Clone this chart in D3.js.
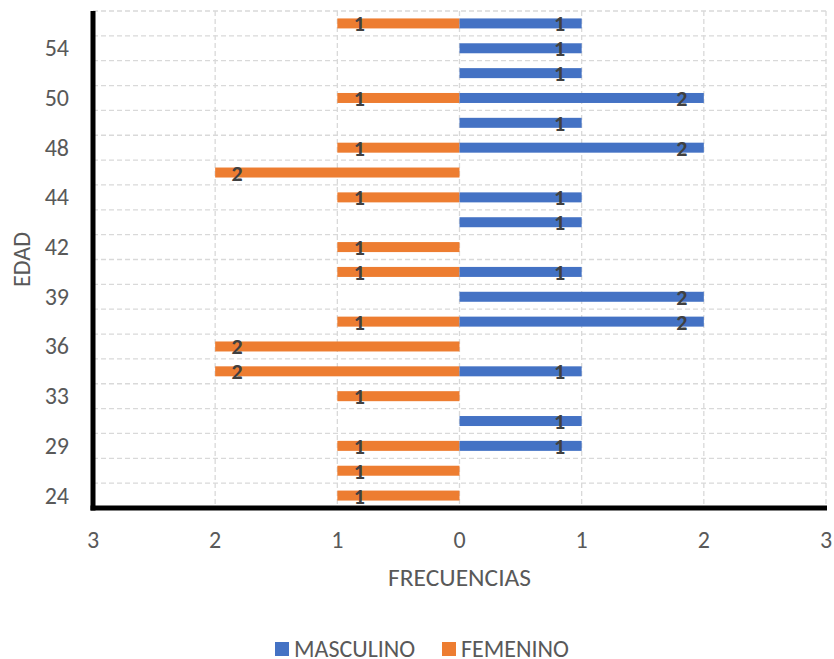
<!DOCTYPE html>
<meta charset="utf-8">
<script src="https://d3js.org/d3.v7.min.js"></script>
<style>
  body { margin: 0; background: #fff; }
  text { font-family: Calibri, Carlito, "Open Sans", sans-serif; }
</style>
<div id="my_dataviz"></div>
<script>

// ages, bottom to top (only every other one is labelled in the chart)
var edades = [24, 26, 29, 30, 33, 35, 36, 37, 39, 40, 42, 43, 44, 46, 48, 49, 50, 52, 54, 56];
var masculino = [0, 0, 1, 1, 0, 1, 0, 2, 2, 1, 0, 1, 1, 0, 2, 1, 2, 1, 1, 1];
var femenino  = [1, 1, 1, 0, 1, 2, 2, 1, 0, 1, 1, 0, 1, 2, 1, 0, 1, 0, 0, 1];
var xTicks = [-3, -2, -1, 0, 1, 2, 3];

var W = 834, H = 659;
var plotLeft = 93, plotRight = 826, plotTop = 11, plotBottom = 508;

var svg = d3.select("#my_dataviz")
  .append("svg")
    .attr("width", W)
    .attr("height", H);

var x = d3.scaleLinear()
  .domain([-3, 3])
  .range([plotLeft, plotRight]);

var y = d3.scaleBand()
  .domain(edades.slice().reverse())
  .range([plotTop, plotBottom]);

var data = edades.map(function(e, i) {
  return {edad: e, m: masculino[i], f: femenino[i], idx: i};
});

// dashed gridlines
svg.append("g")
  .selectAll("line")
  .data(xTicks)
  .enter().append("line")
    .attr("x1", function(d) { return x(d); })
    .attr("x2", function(d) { return x(d); })
    .attr("y1", plotTop)
    .attr("y2", plotBottom)
    .attr("stroke", "#d9d9d9")
    .attr("stroke-width", 1.3)
    .attr("stroke-dasharray", "5,3");

var bounds = edades.map(function(e) { return y(e); });
svg.append("g")
  .selectAll("line")
  .data(bounds)
  .enter().append("line")
    .attr("x1", plotLeft)
    .attr("x2", plotRight)
    .attr("y1", function(d) { return d; })
    .attr("y2", function(d) { return d; })
    .attr("stroke", "#d9d9d9")
    .attr("stroke-width", 1.3)
    .attr("stroke-dasharray", "5,3");

var bh = 10;

// bars
svg.append("g")
  .selectAll("rect")
  .data(data.filter(function(d) { return d.f > 0; }))
  .enter().append("rect")
    .attr("x", function(d) { return x(-d.f); })
    .attr("width", function(d) { return x(0) - x(-d.f); })
    .attr("y", function(d) { return y(d.edad) + y.bandwidth() / 2 - bh / 2; })
    .attr("height", bh)
    .attr("fill", "#ED7D31");

svg.append("g")
  .selectAll("rect")
  .data(data.filter(function(d) { return d.m > 0; }))
  .enter().append("rect")
    .attr("x", x(0))
    .attr("width", function(d) { return x(d.m) - x(0); })
    .attr("y", function(d) { return y(d.edad) + y.bandwidth() / 2 - bh / 2; })
    .attr("height", bh)
    .attr("fill", "#4472C4");

// data labels
svg.append("g")
  .selectAll("text")
  .data(data.filter(function(d) { return d.f > 0; }))
  .enter().append("text")
    .attr("x", function(d) { return x(-d.f) + 22; })
    .attr("y", function(d) { return y(d.edad) + y.bandwidth() / 2 + 8; })
    .attr("text-anchor", "middle")
    .style("font-size", "22px")
    .style("font-weight", "bold")
    .style("fill", "#404040")
    .text(function(d) { return d.f; });

svg.append("g")
  .selectAll("text")
  .data(data.filter(function(d) { return d.m > 0; }))
  .enter().append("text")
    .attr("x", function(d) { return x(d.m) - 22; })
    .attr("y", function(d) { return y(d.edad) + y.bandwidth() / 2 + 8; })
    .attr("text-anchor", "middle")
    .style("font-size", "22px")
    .style("font-weight", "bold")
    .style("fill", "#404040")
    .text(function(d) { return d.m; });

// axes lines
svg.append("line")
  .attr("x1", plotLeft).attr("x2", plotLeft)
  .attr("y1", plotTop).attr("y2", plotBottom + 2.5)
  .attr("stroke", "#000").attr("stroke-width", 5);
svg.append("line")
  .attr("x1", plotLeft - 2.5).attr("x2", plotRight + 1)
  .attr("y1", plotBottom).attr("y2", plotBottom)
  .attr("stroke", "#000").attr("stroke-width", 5);

// y tick labels (every other)
svg.append("g")
  .selectAll("text")
  .data(data.filter(function(d) { return d.idx % 2 === 0; }))
  .enter().append("text")
    .attr("x", 69)
    .attr("y", function(d) { return y(d.edad) + y.bandwidth() / 2 + 8; })
    .attr("text-anchor", "end")
    .style("font-size", "24px")
    .style("fill", "#595959")
    .text(function(d) { return d.edad; });

// x tick labels
svg.append("g")
  .selectAll("text")
  .data(xTicks)
  .enter().append("text")
    .attr("x", function(d) { return x(d); })
    .attr("y", 548)
    .attr("text-anchor", "middle")
    .style("font-size", "24px")
    .style("fill", "#595959")
    .text(function(d) { return Math.abs(d); });

// axis titles
svg.append("text")
  .attr("x", x(0))
  .attr("y", 586)
  .attr("text-anchor", "middle")
  .style("font-size", "25.5px")
  .style("fill", "#595959")
  .text("FRECUENCIAS");

svg.append("text")
  .attr("transform", "translate(30," + ((plotTop + plotBottom) / 2) + ") rotate(-90)")
  .attr("text-anchor", "middle")
  .style("font-size", "24px")
  .style("fill", "#595959")
  .text("EDAD");

// legend
var legend = [
  {name: "MASCULINO", color: "#4472C4", x: 275},
  {name: "FEMENINO", color: "#ED7D31", x: 442}
];
var lg = svg.append("g")
  .selectAll("g")
  .data(legend)
  .enter().append("g")
    .attr("transform", function(d) { return "translate(" + d.x + ",642)"; });
lg.append("rect")
  .attr("width", 14).attr("height", 14)
  .attr("fill", function(d) { return d.color; });
lg.append("text")
  .attr("x", 19)
  .attr("y", 15)
  .style("font-size", "24px")
  .style("fill", "#595959")
  .text(function(d) { return d.name; });

</script>
